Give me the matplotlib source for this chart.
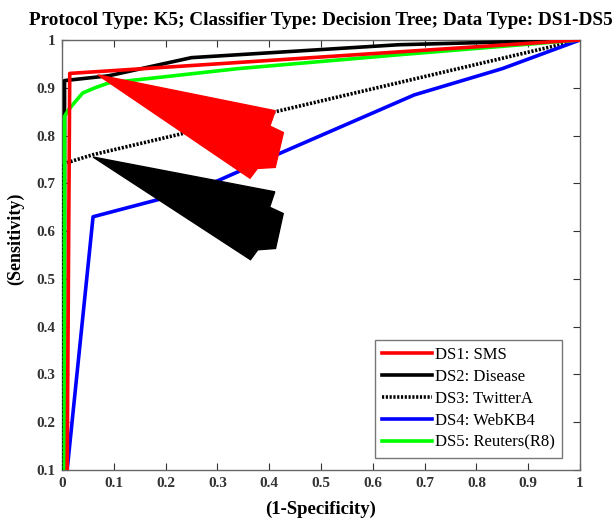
import numpy as np
import matplotlib
matplotlib.use('Agg')
import matplotlib.pyplot as plt
from matplotlib.patches import Polygon

plt.rcParams['font.family'] = ['Liberation Serif', 'DejaVu Serif']

# ROC points
ds1_x = [0.01, 0.015, 0.3, 1.0]
ds1_y = [0.1, 0.93, 0.95, 1.0]

ds2_x = [0.005, 0.005, 0.09, 0.25, 0.65, 1.0]
ds2_y = [0.1, 0.915, 0.925, 0.963, 0.99, 1.0]

ds3_x = [0.0, 0.0, 0.06, 1.0]
ds3_y = [0.1, 0.74, 0.76, 1.0]

ds4_x = [0.01, 0.06, 0.2, 0.3, 0.4, 0.68, 0.85, 1.0]
ds4_y = [0.1, 0.63, 0.67, 0.705, 0.753, 0.885, 0.94, 1.0]

ds5_x = [0.005, 0.005, 0.012, 0.025, 0.04, 0.064, 0.09, 0.34, 0.65, 1.0]
ds5_y = [0.1, 0.84, 0.853, 0.87, 0.889, 0.9, 0.91, 0.94, 0.969, 1.0]

labels = ['DS1: SMS', 'DS2: Disease', 'DS3: TwitterA', 'DS4: WebKB4', 'DS5: Reuters(R8)']

fig = plt.figure(figsize=(6.16, 5.19), dpi=100)
ax = fig.add_axes([0.1006, 0.0944, 0.841, 0.8286])

lw = 2.6
ax.plot(ds1_x, ds1_y, color='#ff0000', lw=lw, label=labels[0], zorder=6)
ax.plot(ds2_x, ds2_y, color='black', lw=lw, label=labels[1], zorder=4)
ax.plot(ds3_x, ds3_y, color='black', lw=lw, linestyle=(0, (0.6, 0.45)), label=labels[2], zorder=3)
ax.plot(ds4_x, ds4_y, color='#0000ff', lw=lw, label=labels[3], zorder=3)
ax.plot(ds5_x, ds5_y, color='#00ff00', lw=lw, label=labels[4], zorder=5)

ax.set_xlim(0, 1)
ax.set_ylim(0.1, 1)


def serrated_arrow(ax, tip, tail, width, color):
    # arrow built in pixel space so the shape keeps its look
    t = ax.transData
    p0 = np.array(t.transform(tip))
    p1 = np.array(t.transform(tail))
    d = p1 - p0
    L = np.hypot(*d)
    u = d / L
    v = np.array([-u[1], u[0]])
    w = width / 2
    local = [(0, 0), (L - 3, w), (L - 2, 0.55 * w), (L + 13, 0.53 * w),
             (L + 19, -0.45 * w), (L + 3, -0.67 * w), (L, -w)]
    pts = [p0 + a * u + b * v for a, b in local]
    pts = t.inverted().transform(pts)
    ax.add_patch(Polygon(pts, closed=True, facecolor=color, edgecolor=color, zorder=8))


fig.canvas.draw()
serrated_arrow(ax, (0.069, 0.927), (0.39, 0.78), 72, '#ff0000')
serrated_arrow(ax, (0.06, 0.755), (0.39, 0.61), 72, 'black')

xt = np.round(np.arange(0, 1.01, 0.1), 1)
yt = np.round(np.arange(0.1, 1.01, 0.1), 1)
ax.set_xticks(xt)
ax.set_xticklabels(['0' if v == 0 else ('1' if v == 1 else f'{v:g}') for v in xt])
ax.set_yticks(yt)
ax.set_yticklabels(['1' if v == 1 else f'{v:g}' for v in yt])
ax.tick_params(direction='in', top=True, right=True, length=5, width=0.8,
               labelsize=11, colors='#333333', pad=5)
for lab in ax.get_xticklabels() + ax.get_yticklabels():
    lab.set_fontweight('bold')
for s in ax.spines.values():
    s.set_color('#666666')
    s.set_linewidth(1.0)

ax.set_xlabel('(1-Specificity)', fontsize=13.5, fontweight='bold', labelpad=8)
ax.set_ylabel('(Sensitivity)', fontsize=13, fontweight='bold')
ax.yaxis.set_label_coords(-0.073, 0.537)
ax.set_title('Protocol Type: K5; Classifier Type: Decision Tree; Data Type: DS1-DS5',
             fontsize=13.8, fontweight='bold', pad=10.5)

leg = ax.legend(loc='lower right', bbox_to_anchor=(0.965, 0.028), fontsize=12,
                handlelength=3.0, frameon=True, fancybox=False, borderpad=0.45,
                labelspacing=0.35, handletextpad=0.15, borderaxespad=0)
leg.get_frame().set_edgecolor('#555555')
leg.get_frame().set_linewidth(1.0)

fig.savefig('out.png', dpi=100)
